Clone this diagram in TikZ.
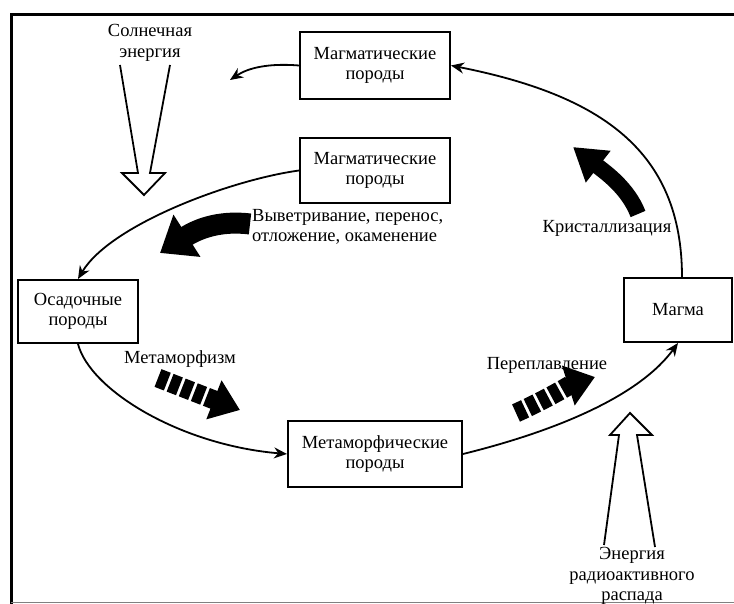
\documentclass[tikz,border=0pt]{standalone}
\usepackage{fontspec}
\setmainfont{Liberation Serif}
\usetikzlibrary{arrows.meta}

\begin{document}
\begin{tikzpicture}[x=1pt,y=-1pt,
  font=\fontsize{18.5}{20.5}\selectfont,
  box/.style={draw,line width=2pt,align=center,inner sep=0pt},
  flow/.style={line width=1.8pt,-{Stealth[length=13pt,width=11pt]}},
  hollow/.style={line width=1.8pt,line join=miter},
  label/.style={align=center,inner sep=0pt}]
  \useasboundingbox (0,0) rectangle (734,604);
  \draw[line width=3pt] (10,15) -- (734,15);
  \draw[line width=3pt] (11,15) -- (11,604);
  \draw[gray,line width=1pt] (11,602) -- (734,602);

  \node[box,minimum width=150pt,minimum height=67pt] (igneousTop) at (375,65.5) {Магматические\\породы};
  \node[box,minimum width=150pt,minimum height=65pt] (igneousMid) at (375,170.5) {Магматические\\породы};
  \node[box,minimum width=120pt,minimum height=63pt] (sedim) at (78,311.5) {Осадочные\\породы};
  \node[box,minimum width=174pt,minimum height=66pt] (metam) at (375,454) {Метаморфические\\породы};
  \node[box,minimum width=108pt,minimum height=64pt] (magma) at (678,310) {Магма};
  \coordinate (sunward) at (230,80);

  \draw[flow] (igneousTop.west) .. controls (268,63) and (248,68) .. (sunward);
  \draw[flow] (magma.north west -| 682,0) .. controls (682,150) and (600,95) .. (igneousTop.east);
  \draw[flow] (igneousMid.west) .. controls (230,180) and (110,225) .. (sedim.north);
  \draw[flow] (sedim.south) .. controls (90,390) and (180,445) .. (metam.west);
  \draw[flow] (metam.east) .. controls (560,430) and (640,395) .. (magma.south);

  \node[label] (sun) at (150,43) {Солнечная\\энергия};
  \draw[hollow] (120,65) -- (138,173) -- (122,173) -- (144,195) -- (165,173) -- (150,173) -- (170,65);
  \node[label] (decay) at (632,576) {Энергия\\радиоактивного\\распада};
  \draw[hollow] (604,545) -- (619,435) -- (610,435) -- (630,413) -- (652,435) -- (637,435) -- (655,547);

  \node[label,anchor=west,align=left] (weather) at (252,227) {Выветривание, перенос,\\отложение, окаменение};
  \draw[line width=21pt,-{Triangle[length=32pt,width=48pt]}] (250,224) .. controls (218,220) and (196,230) .. (160,253);
  \node[label] (cryst) at (607,228) {Кристаллизация};
  \draw[line width=16pt,-{Triangle[length=32pt,width=38pt]}] (638,214) .. controls (628,188) and (605,172) .. (573,147);
  \node[label] (metalabel) at (180,359) {Метаморфизм};
  \draw[line width=19pt,dash pattern=on 10pt off 3pt,-{Triangle[length=28pt,width=40pt]}] (158,378) -- (240,410);
  \node[label] (remelt) at (547,365) {Переплавление};
  \draw[line width=19pt,dash pattern=on 10pt off 3pt,-{Triangle[length=28pt,width=40pt]}] (516,413) .. controls (545,400) and (570,385) .. (595,377);
\end{tikzpicture}
\end{document}
